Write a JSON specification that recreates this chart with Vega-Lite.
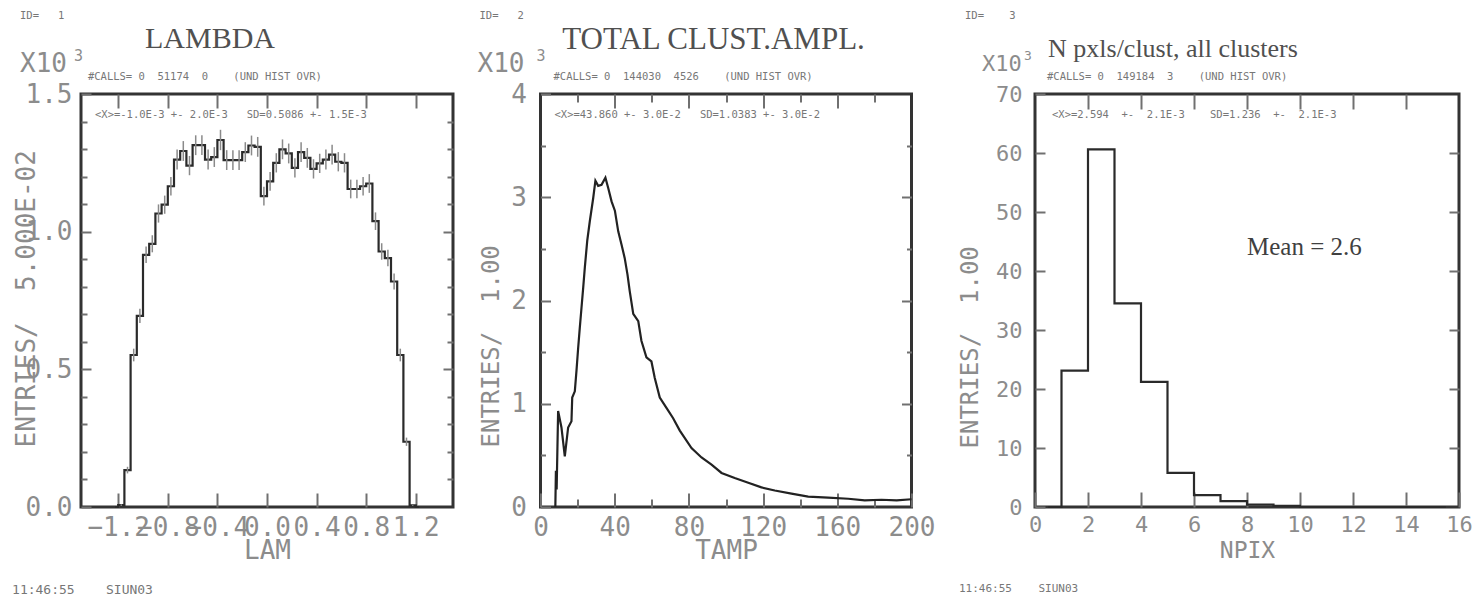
{
  "$schema": "https://vega.github.io/schema/vega-lite/v6.json",
  "background": "white",
  "padding": {"left": 10, "top": 9, "right": 0, "bottom": 0},
  "align": "none",
  "bounds": "full",
  "spacing": 19.5,
  "config": {
    "view": {"stroke": "#333333", "strokeWidth": 3},
    "axis": {"grid": false, "domain": false, "labelFlush": false, "labelOverlap": false, "tickColor": "#707070", "tickWidth": 2, "labelColor": "#8c8c8c", "titleColor": "#8c8c8c", "labelFont": "DejaVu Sans Mono", "titleFont": "DejaVu Sans Mono", "titleFontWeight": "normal", "titlePadding": 0}
  },
  "datasets": {
    "lam": [
      {"c": -1.225, "n": 0, "e": 0},
      {"c": -1.175, "n": 0.007, "e": 0.003},
      {"c": -1.125, "n": 0.134, "e": 0.012},
      {"c": -1.075, "n": 0.552, "e": 0.023},
      {"c": -1.025, "n": 0.694, "e": 0.026},
      {"c": -0.975, "n": 0.916, "e": 0.030},
      {"c": -0.925, "n": 0.956, "e": 0.031},
      {"c": -0.875, "n": 1.066, "e": 0.033},
      {"c": -0.825, "n": 1.098, "e": 0.033},
      {"c": -0.775, "n": 1.165, "e": 0.034},
      {"c": -0.725, "n": 1.262, "e": 0.036},
      {"c": -0.675, "n": 1.293, "e": 0.036},
      {"c": -0.625, "n": 1.240, "e": 0.035},
      {"c": -0.575, "n": 1.314, "e": 0.036},
      {"c": -0.525, "n": 1.314, "e": 0.036},
      {"c": -0.475, "n": 1.262, "e": 0.036},
      {"c": -0.425, "n": 1.271, "e": 0.036},
      {"c": -0.375, "n": 1.333, "e": 0.037},
      {"c": -0.325, "n": 1.260, "e": 0.036},
      {"c": -0.275, "n": 1.260, "e": 0.036},
      {"c": -0.225, "n": 1.260, "e": 0.036},
      {"c": -0.175, "n": 1.289, "e": 0.036},
      {"c": -0.125, "n": 1.313, "e": 0.036},
      {"c": -0.075, "n": 1.308, "e": 0.036},
      {"c": -0.025, "n": 1.129, "e": 0.034},
      {"c": 0.025, "n": 1.183, "e": 0.034},
      {"c": 0.075, "n": 1.250, "e": 0.035},
      {"c": 0.125, "n": 1.299, "e": 0.036},
      {"c": 0.175, "n": 1.284, "e": 0.036},
      {"c": 0.225, "n": 1.232, "e": 0.035},
      {"c": 0.275, "n": 1.289, "e": 0.036},
      {"c": 0.325, "n": 1.268, "e": 0.036},
      {"c": 0.375, "n": 1.228, "e": 0.035},
      {"c": 0.425, "n": 1.248, "e": 0.035},
      {"c": 0.475, "n": 1.262, "e": 0.036},
      {"c": 0.525, "n": 1.280, "e": 0.036},
      {"c": 0.575, "n": 1.254, "e": 0.035},
      {"c": 0.625, "n": 1.250, "e": 0.035},
      {"c": 0.675, "n": 1.155, "e": 0.034},
      {"c": 0.725, "n": 1.155, "e": 0.034},
      {"c": 0.775, "n": 1.165, "e": 0.034},
      {"c": 0.825, "n": 1.175, "e": 0.034},
      {"c": 0.875, "n": 1.038, "e": 0.032},
      {"c": 0.925, "n": 0.928, "e": 0.030},
      {"c": 0.975, "n": 0.904, "e": 0.030},
      {"c": 1.025, "n": 0.819, "e": 0.029},
      {"c": 1.075, "n": 0.552, "e": 0.023},
      {"c": 1.125, "n": 0.237, "e": 0.015},
      {"c": 1.175, "n": 0.006, "e": 0.002},
      {"c": 1.225, "n": 0, "e": 0}
    ],
    "tamp": [
      {"a": 8.0, "n": 0.0}, {"a": 8.3, "n": 0.35}, {"a": 8.7, "n": 0.17}, {"a": 9.5, "n": 0.93},
      {"a": 11.3, "n": 0.77}, {"a": 13.1, "n": 0.49}, {"a": 14.9, "n": 0.77}, {"a": 16.7, "n": 0.83},
      {"a": 17.1, "n": 1.06}, {"a": 18.5, "n": 1.12}, {"a": 19.4, "n": 1.32}, {"a": 20.3, "n": 1.54},
      {"a": 21.2, "n": 1.74}, {"a": 22.1, "n": 1.93}, {"a": 23.0, "n": 2.12}, {"a": 23.9, "n": 2.32},
      {"a": 25.2, "n": 2.58}, {"a": 26.6, "n": 2.77}, {"a": 28.4, "n": 2.99}, {"a": 29.6, "n": 3.16},
      {"a": 31.1, "n": 3.11}, {"a": 32.9, "n": 3.12}, {"a": 35.0, "n": 3.19}, {"a": 36.5, "n": 3.09},
      {"a": 38.3, "n": 2.96}, {"a": 40.1, "n": 2.87}, {"a": 41.9, "n": 2.67}, {"a": 43.7, "n": 2.54},
      {"a": 45.4, "n": 2.41}, {"a": 46.9, "n": 2.25}, {"a": 48.1, "n": 2.09}, {"a": 50.0, "n": 1.87},
      {"a": 52.7, "n": 1.80}, {"a": 54.4, "n": 1.61}, {"a": 57.1, "n": 1.45}, {"a": 59.8, "n": 1.41},
      {"a": 61.6, "n": 1.25}, {"a": 64.3, "n": 1.06}, {"a": 67.9, "n": 0.96}, {"a": 71.5, "n": 0.86},
      {"a": 75.1, "n": 0.74}, {"a": 81.4, "n": 0.57}, {"a": 86.8, "n": 0.48}, {"a": 92.2, "n": 0.41},
      {"a": 97.6, "n": 0.33}, {"a": 104.7, "n": 0.28}, {"a": 112.0, "n": 0.235}, {"a": 119.1, "n": 0.19},
      {"a": 126.3, "n": 0.16}, {"a": 135.3, "n": 0.13}, {"a": 144.3, "n": 0.10}, {"a": 155.0, "n": 0.09},
      {"a": 165.9, "n": 0.08}, {"a": 174.8, "n": 0.065}, {"a": 183.8, "n": 0.07}, {"a": 192.0, "n": 0.065},
      {"a": 200.0, "n": 0.075}
    ],
    "npix": [
      {"c": 0.5, "n": 0}, {"c": 1.5, "n": 23.1}, {"c": 2.5, "n": 60.6}, {"c": 3.5, "n": 34.5},
      {"c": 4.5, "n": 21.2}, {"c": 5.5, "n": 5.8}, {"c": 6.5, "n": 2.0}, {"c": 7.5, "n": 1.0},
      {"c": 8.5, "n": 0.4}, {"c": 9.5, "n": 0.2}, {"c": 10.5, "n": 0}, {"c": 11.5, "n": 0},
      {"c": 12.5, "n": 0}, {"c": 13.5, "n": 0}, {"c": 14.5, "n": 0}, {"c": 15.5, "n": 0}
    ]
  },
  "hconcat": [
    {
      "width": 372,
      "height": 413,
      "resolve": {"axis": {"x": "independent", "y": "independent"}},
      "layer": [
        {
          "data": {"name": "lam"},
          "mark": {"type": "line", "interpolate": "step", "color": "#2a2a2a", "strokeWidth": 2.2},
          "encoding": {
            "x": {"field": "c", "type": "quantitative", "scale": {"domain": [-1.5, 1.5]},
              "axis": {"orient": "bottom", "values": [-1.2, -0.8, -0.4, 0, 0.4, 0.8, 1.2], "format": ".1f", "tickSize": -14, "labelPadding": 21, "labelFontSize": 26, "title": "LAM", "titleFontSize": 26, "titleY": 43, "titleBaseline": "middle"}},
            "y": {"field": "n", "type": "quantitative", "scale": {"domain": [0, 1.5]},
              "axis": {"orient": "left", "values": [0, 0.5, 1, 1.5], "format": ".1f", "tickSize": -10, "labelPadding": 19, "labelFontSize": 26, "title": "ENTRIES/\u00a0\u00a05.000E-02", "titleFontSize": 26, "titleAngle": 270, "titleAlign": "left", "titleBaseline": "middle", "titleX": -55, "titleY": 353}}
          }
        },
        {
          "data": {"name": "lam"},
          "mark": {"type": "errorbar", "ticks": false, "color": "#8a8a8a", "thickness": 1.5},
          "encoding": {
            "x": {"field": "c", "type": "quantitative", "scale": {"domain": [-1.5, 1.5]}, "axis": null},
            "y": {"field": "n", "type": "quantitative", "scale": {"domain": [0, 1.5]}, "axis": null},
            "yError": {"field": "e"}
          }
        },
        {
          "data": {"values": [
            {"x": -1.992, "y": 1.783, "t": "ID=\u00a0\u00a0\u00a01"},
            {"x": -1.444, "y": 1.562, "t": "#CALLS=\u00a00\u00a0\u00a051174\u00a0\u00a00\u00a0\u00a0\u00a0\u00a0(UND\u00a0HIST\u00a0OVR)"},
            {"x": -1.387, "y": 1.424, "t": "<X>=-1.0E-3\u00a0+-\u00a02.0E-3\u00a0\u00a0\u00a0SD=0.5086\u00a0+-\u00a01.5E-3"}
          ]},
          "mark": {"type": "text", "align": "left", "baseline": "middle", "font": "DejaVu Sans Mono", "fontSize": 10.5, "color": "#777777"},
          "encoding": {
            "x": {"field": "x", "type": "quantitative", "scale": {"domain": [-1.5, 1.5]},
              "axis": {"orient": "top", "values": [-1.2, -0.8, -0.4, 0, 0.4, 0.8, 1.2], "tickSize": -14, "labels": false, "title": null}},
            "y": {"field": "y", "type": "quantitative", "scale": {"domain": [0, 1.5]},
              "axis": {"orient": "left", "values": [0.1, 0.2, 0.3, 0.4, 0.6, 0.7, 0.8, 0.9, 1.1, 1.2, 1.3, 1.4], "tickSize": -6, "labels": false, "title": null}},
            "text": {"field": "t"}
          }
        },
        {
          "data": {"values": [{"x": -0.46, "y": 1.667, "t": "LAMBDA"}]},
          "mark": {"type": "text", "align": "center", "baseline": "alphabetic", "font": "Liberation Serif", "fontSize": 30, "color": "#505050"},
          "encoding": {
            "x": {"field": "x", "type": "quantitative", "scale": {"domain": [-1.5, 1.5]}, "axis": null},
            "y": {"field": "y", "type": "quantitative", "scale": {"domain": [0, 1.5]},
              "axis": {"orient": "right", "values": [0.5, 1.0], "tickSize": -10, "labels": false, "title": null}},
            "text": {"field": "t"}
          }
        },
        {
          "data": {"values": [{"x": -1.992, "y": 1.609, "t": "X10"}]},
          "mark": {"type": "text", "align": "left", "baseline": "middle", "font": "DejaVu Sans Mono", "fontSize": 26, "color": "#8c8c8c"},
          "encoding": {
            "x": {"field": "x", "type": "quantitative", "scale": {"domain": [-1.5, 1.5]}, "axis": null},
            "y": {"field": "y", "type": "quantitative", "scale": {"domain": [0, 1.5]},
              "axis": {"orient": "right", "values": [0.1, 0.2, 0.3, 0.4, 0.6, 0.7, 0.8, 0.9, 1.1, 1.2, 1.3, 1.4], "tickSize": -6, "labels": false, "title": null}},
            "text": {"field": "t"}
          }
        },
        {
          "data": {"values": [{"x": -1.556, "y": 1.638, "t": "3"}]},
          "mark": {"type": "text", "align": "left", "baseline": "middle", "font": "DejaVu Sans Mono", "fontSize": 15, "color": "#8c8c8c"},
          "encoding": {
            "x": {"field": "x", "type": "quantitative", "scale": {"domain": [-1.5, 1.5]}, "axis": null},
            "y": {"field": "y", "type": "quantitative", "scale": {"domain": [0, 1.5]}, "axis": null},
            "text": {"field": "t"}
          }
        },
        {
          "data": {"values": [{"x": -2.056, "y": -0.3015, "t": "11:46:55\u00a0\u00a0\u00a0\u00a0SIUN03"}]},
          "mark": {"type": "text", "align": "left", "baseline": "middle", "font": "DejaVu Sans Mono", "fontSize": 13, "color": "#777777"},
          "encoding": {
            "x": {"field": "x", "type": "quantitative", "scale": {"domain": [-1.5, 1.5]}, "axis": null},
            "y": {"field": "y", "type": "quantitative", "scale": {"domain": [0, 1.5]}, "axis": null},
            "text": {"field": "t"}
          }
        }
      ]
    },
    {
      "width": 371,
      "height": 413,
      "resolve": {"axis": {"x": "independent", "y": "independent"}},
      "layer": [
        {
          "data": {"name": "tamp"},
          "mark": {"type": "line", "color": "#222222", "strokeWidth": 2.2},
          "encoding": {
            "x": {"field": "a", "type": "quantitative", "scale": {"domain": [0, 200]},
              "axis": {"orient": "bottom", "values": [0, 40, 80, 120, 160, 200], "format": "d", "tickSize": -14, "labelPadding": 21, "labelFontSize": 26, "title": "TAMP", "titleFontSize": 26, "titleY": 43, "titleBaseline": "middle"}},
            "y": {"field": "n", "type": "quantitative", "scale": {"domain": [0, 4]},
              "axis": {"orient": "left", "values": [0, 1, 2, 3, 4], "format": "d", "tickSize": -10, "labelPadding": 24, "labelFontSize": 26, "title": "ENTRIES/\u00a0\u00a01.00", "titleFontSize": 24, "titleAngle": 270, "titleAlign": "left", "titleBaseline": "middle", "titleX": -49, "titleY": 353}}
          }
        },
        {
          "data": {"values": [
            {"x": -32.88, "y": 4.755, "t": "ID=\u00a0\u00a0\u00a02"},
            {"x": 7.01, "y": 4.165, "t": "#CALLS=\u00a00\u00a0\u00a0144030\u00a0\u00a04526\u00a0\u00a0\u00a0\u00a0(UND\u00a0HIST\u00a0OVR)"},
            {"x": 7.55, "y": 3.797, "t": "<X>=43.860\u00a0+-\u00a03.0E-2\u00a0\u00a0\u00a0SD=1.0383\u00a0+-\u00a03.0E-2"}
          ]},
          "mark": {"type": "text", "align": "left", "baseline": "middle", "font": "DejaVu Sans Mono", "fontSize": 10.5, "color": "#777777"},
          "encoding": {
            "x": {"field": "x", "type": "quantitative", "scale": {"domain": [0, 200]},
              "axis": {"orient": "bottom", "values": [20, 60, 100, 140, 180], "tickSize": -8, "labels": false, "title": null}},
            "y": {"field": "y", "type": "quantitative", "scale": {"domain": [0, 4]},
              "axis": {"orient": "left", "values": [0.5, 1.5, 2.5, 3.5], "tickSize": -5, "labels": false, "title": null}},
            "text": {"field": "t"}
          }
        },
        {
          "data": {"values": [{"x": 93.26, "y": 4.436, "t": "TOTAL CLUST.AMPL."}]},
          "mark": {"type": "text", "align": "center", "baseline": "alphabetic", "font": "Liberation Serif", "fontSize": 31, "color": "#505050"},
          "encoding": {
            "x": {"field": "x", "type": "quantitative", "scale": {"domain": [0, 200]},
              "axis": {"orient": "top", "values": [40, 80, 120, 160], "tickSize": -14, "labels": false, "title": null}},
            "y": {"field": "y", "type": "quantitative", "scale": {"domain": [0, 4]},
              "axis": {"orient": "right", "values": [1, 2, 3], "tickSize": -10, "labels": false, "title": null}},
            "text": {"field": "t"}
          }
        },
        {
          "data": {"values": [{"x": -33.96, "y": 4.291, "t": "X10"}]},
          "mark": {"type": "text", "align": "left", "baseline": "middle", "font": "DejaVu Sans Mono", "fontSize": 26, "color": "#8c8c8c"},
          "encoding": {
            "x": {"field": "x", "type": "quantitative", "scale": {"domain": [0, 200]},
              "axis": {"orient": "top", "values": [20, 60, 100, 140, 180], "tickSize": -8, "labels": false, "title": null}},
            "y": {"field": "y", "type": "quantitative", "scale": {"domain": [0, 4]},
              "axis": {"orient": "right", "values": [0.5, 1.5, 2.5, 3.5], "tickSize": -5, "labels": false, "title": null}},
            "text": {"field": "t"}
          }
        },
        {
          "data": {"values": [{"x": -2.16, "y": 4.368, "t": "3"}]},
          "mark": {"type": "text", "align": "left", "baseline": "middle", "font": "DejaVu Sans Mono", "fontSize": 15, "color": "#8c8c8c"},
          "encoding": {
            "x": {"field": "x", "type": "quantitative", "scale": {"domain": [0, 200]}, "axis": null},
            "y": {"field": "y", "type": "quantitative", "scale": {"domain": [0, 4]}, "axis": null},
            "text": {"field": "t"}
          }
        }
      ]
    },
    {
      "width": 424,
      "height": 413,
      "resolve": {"axis": {"x": "independent", "y": "independent"}},
      "layer": [
        {
          "data": {"name": "npix"},
          "mark": {"type": "line", "interpolate": "step", "color": "#2a2a2a", "strokeWidth": 2.2},
          "encoding": {
            "x": {"field": "c", "type": "quantitative", "scale": {"domain": [0, 16]},
              "axis": {"orient": "bottom", "values": [0, 2, 4, 6, 8, 10, 12, 14, 16], "format": "d", "tickSize": -15, "labelPadding": 22, "labelFontSize": 22, "title": "NPIX", "titleFontSize": 23, "titleY": 43, "titleBaseline": "middle"}},
            "y": {"field": "n", "type": "quantitative", "scale": {"domain": [0, 70]},
              "axis": {"orient": "left", "values": [0, 10, 20, 30, 40, 50, 60, 70], "format": "d", "tickSize": -10, "labelPadding": 23, "labelFontSize": 22, "title": "ENTRIES/\u00a0\u00a01.00", "titleFontSize": 24, "titleAngle": 270, "titleAlign": "left", "titleBaseline": "middle", "titleX": -65, "titleY": 354}}
          }
        },
        {
          "data": {"values": [
            {"x": -2.642, "y": 83.22, "t": "ID=\u00a0\u00a0\u00a0\u00a03"},
            {"x": 0.453, "y": 72.88, "t": "#CALLS=\u00a00\u00a0\u00a0149184\u00a0\u00a03\u00a0\u00a0\u00a0\u00a0(UND\u00a0HIST\u00a0OVR)"},
            {"x": 0.642, "y": 66.44, "t": "<X>=2.594\u00a0\u00a0+-\u00a0\u00a02.1E-3\u00a0\u00a0\u00a0\u00a0SD=1.236\u00a0\u00a0+-\u00a0\u00a02.1E-3"}
          ]},
          "mark": {"type": "text", "align": "left", "baseline": "middle", "font": "DejaVu Sans Mono", "fontSize": 10.5, "color": "#777777"},
          "encoding": {
            "x": {"field": "x", "type": "quantitative", "scale": {"domain": [0, 16]},
              "axis": {"orient": "top", "values": [2, 4, 6, 8, 10, 12, 14], "tickSize": -15, "labels": false, "title": null}},
            "y": {"field": "y", "type": "quantitative", "scale": {"domain": [0, 70]},
              "axis": {"orient": "right", "values": [10, 20, 30, 40, 50, 60], "tickSize": -10, "labels": false, "title": null}},
            "text": {"field": "t"}
          }
        },
        {
          "data": {"values": [{"x": 0.491, "y": 76.27, "t": "N pxls/clust, all clusters"}]},
          "mark": {"type": "text", "align": "left", "baseline": "alphabetic", "font": "Liberation Serif", "fontSize": 26, "color": "#505050"},
          "encoding": {
            "x": {"field": "x", "type": "quantitative", "scale": {"domain": [0, 16]}, "axis": null},
            "y": {"field": "y", "type": "quantitative", "scale": {"domain": [0, 70]}, "axis": null},
            "text": {"field": "t"}
          }
        },
        {
          "data": {"values": [{"x": 8.0, "y": 42.71, "t": "Mean = 2.6"}]},
          "mark": {"type": "text", "align": "left", "baseline": "alphabetic", "font": "Liberation Serif", "fontSize": 25, "color": "#404040"},
          "encoding": {
            "x": {"field": "x", "type": "quantitative", "scale": {"domain": [0, 16]}, "axis": null},
            "y": {"field": "y", "type": "quantitative", "scale": {"domain": [0, 70]}, "axis": null},
            "text": {"field": "t"}
          }
        },
        {
          "data": {"values": [{"x": -2.0, "y": 75.08, "t": "X10"}]},
          "mark": {"type": "text", "align": "left", "baseline": "middle", "font": "DejaVu Sans Mono", "fontSize": 22, "color": "#8c8c8c"},
          "encoding": {
            "x": {"field": "x", "type": "quantitative", "scale": {"domain": [0, 16]}, "axis": null},
            "y": {"field": "y", "type": "quantitative", "scale": {"domain": [0, 70]}, "axis": null},
            "text": {"field": "t"}
          }
        },
        {
          "data": {"values": [{"x": -0.415, "y": 76.44, "t": "3"}]},
          "mark": {"type": "text", "align": "left", "baseline": "middle", "font": "DejaVu Sans Mono", "fontSize": 13, "color": "#8c8c8c"},
          "encoding": {
            "x": {"field": "x", "type": "quantitative", "scale": {"domain": [0, 16]}, "axis": null},
            "y": {"field": "y", "type": "quantitative", "scale": {"domain": [0, 70]}, "axis": null},
            "text": {"field": "t"}
          }
        },
        {
          "data": {"values": [{"x": -2.868, "y": -13.9, "t": "11:46:55\u00a0\u00a0\u00a0\u00a0SIUN03"}]},
          "mark": {"type": "text", "align": "left", "baseline": "middle", "font": "DejaVu Sans Mono", "fontSize": 11, "color": "#777777"},
          "encoding": {
            "x": {"field": "x", "type": "quantitative", "scale": {"domain": [0, 16]}, "axis": null},
            "y": {"field": "y", "type": "quantitative", "scale": {"domain": [0, 70]}, "axis": null},
            "text": {"field": "t"}
          }
        }
      ]
    }
  ]
}
